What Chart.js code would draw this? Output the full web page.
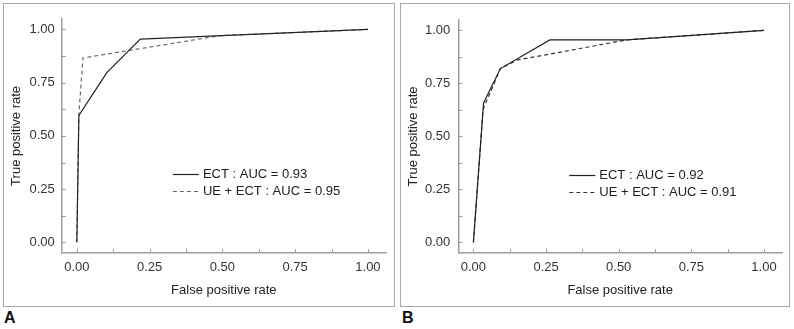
<!DOCTYPE html>
<html>
<head>
<meta charset="utf-8">
<script src="https://cdn.jsdelivr.net/npm/chart.js@4.4.1/dist/chart.umd.min.js"></script>
<style>
  body { margin: 0; background: #fff; width: 794px; height: 329px; position: relative; overflow: hidden; font-family: "Liberation Sans", Arial, sans-serif; }
  .panel { position: absolute; top: 3px; height: 302px; border: 1px solid #a8a8a8; }
  #boxA { left: 3px; width: 390px; }
  #boxB { left: 400px; width: 388px; }
  .panel canvas { position: absolute; left: 0; top: 0; }
  .tag { position: absolute; top: 310px; font-weight: bold; font-size: 16px; line-height: 16px; color: #111; }
</style>
</head>
<body>
<div class="panel" id="boxA"><canvas id="chartA" width="390" height="302"></canvas></div>
<div class="panel" id="boxB"><canvas id="chartB" width="388" height="302"></canvas></div>
<div class="tag" style="left:4px">A</div>
<div class="tag" style="left:402px">B</div>
<script>
// panel A
var ectA_fpr = [0, 0.007, 0.103, 0.218, 1];
var ectA_tpr = [0, 0.596, 0.797, 0.955, 1];
var ueA_fpr = [0, 0.007, 0.021, 0.493, 1];
var ueA_tpr = [0, 0.600, 0.866, 0.971, 1];

// panel B
var ectB_fpr = [0, 0.035, 0.093, 0.263, 0.527, 1];
var ectB_tpr = [0, 0.658, 0.820, 0.955, 0.955, 1];
var ueB_fpr = [0, 0.033, 0.093, 0.150, 0.527, 1];
var ueB_tpr = [0, 0.627, 0.820, 0.860, 0.955, 1];

var labelsA = ['ECT : AUC = 0.93', 'UE + ECT : AUC = 0.95'];
var labelsB = ['ECT : AUC = 0.92', 'UE + ECT : AUC = 0.91'];

var tickVals = [0, 0.25, 0.5, 0.75, 1];
var tickMarks = [0, 0.125, 0.25, 0.375, 0.5, 0.625, 0.75, 0.875, 1];
var legendX = 0.33;
var legendY = [0.32, 0.24];

var font = { family: '"Liberation Sans", Arial, sans-serif', size: 13 };

function pts(xs, ys) {
    return xs.map(function(v, i) { return { x: v, y: ys[i] }; });
}

// little inward tick marks, ggplot style
var innerTicks = {
    id: 'innerTicks',
    afterDatasetsDraw: function(chart) {
        var ctx = chart.ctx, a = chart.chartArea, x = chart.scales.x, y = chart.scales.y;
        ctx.save();
        ctx.strokeStyle = '#9a9a9a';
        ctx.lineWidth = 1;
        tickMarks.forEach(function(v) {
            var px = Math.round(x.getPixelForValue(v)) + 0.5;
            ctx.beginPath(); ctx.moveTo(px, a.bottom); ctx.lineTo(px, a.bottom - 4); ctx.stroke();
            var py = Math.round(y.getPixelForValue(v)) + 0.5;
            ctx.beginPath(); ctx.moveTo(a.left, py); ctx.lineTo(a.left + 4, py); ctx.stroke();
        });
        ctx.restore();
    }
};

// legend sits inside the plot
var innerLegend = {
    id: 'innerLegend',
    afterDatasetsDraw: function(chart) {
        var ctx = chart.ctx, x = chart.scales.x, y = chart.scales.y;
        var x0 = x.getPixelForValue(legendX);
        ctx.save();
        chart.data.datasets.forEach(function(ds, i) {
            var py = Math.round(y.getPixelForValue(legendY[i])) + 0.5;
            ctx.strokeStyle = ds.borderColor;
            ctx.lineWidth = ds.borderWidth;
            ctx.setLineDash(ds.borderDash || []);
            ctx.beginPath(); ctx.moveTo(x0, py); ctx.lineTo(x0 + 26, py); ctx.stroke();
            ctx.setLineDash([]);
            ctx.fillStyle = '#222';
            ctx.font = font.size + 'px ' + font.family;
            ctx.textBaseline = 'middle';
            ctx.textAlign = 'left';
            ctx.fillText(ds.label, x0 + 30, py);
        });
        ctx.restore();
    }
};

function makePanel(id, ect, ue, labels, dashColor, yWidth, padRight, yPad) {
    var ctx = document.getElementById(id);
    new Chart(ctx, {
        type: 'line',
        data: {
            datasets: [{
                label: labels[0],
                data: ect,
                borderColor: '#222',
                borderWidth: 1.2,
                pointRadius: 0,
                tension: 0
            }, {
                label: labels[1],
                data: ue,
                borderColor: dashColor,
                borderWidth: 1.2,
                borderDash: [4, 3],
                pointRadius: 0,
                tension: 0
            }]
        },
        options: {
            responsive: false,
            animation: false,
            layout: { padding: { left: 0, right: padRight, top: 11, bottom: 0 } },
            plugins: { legend: { display: false }, tooltip: { enabled: false } },
            scales: {
                x: {
                    type: 'linear',
                    min: -0.052,
                    max: 1.062,
                    afterBuildTicks: function(s) { s.ticks = tickVals.map(function(v) { return { value: v }; }); },
                    afterFit: function(s) { s.height = 53; },
                    grid: { display: false, drawTicks: false },
                    border: { display: true, color: '#a0a0a0', width: 1.5 },
                    ticks: { font: font, color: '#333', padding: 7, maxRotation: 0,
                        callback: function(v) { return v.toFixed(2); } },
                    title: { display: true, text: 'False positive rate', font: font, color: '#222',
                        padding: { top: 0, bottom: 8 } }
                },
                y: {
                    type: 'linear',
                    min: -0.05,
                    max: 1.05,
                    afterBuildTicks: function(s) { s.ticks = tickVals.map(function(v) { return { value: v }; }); },
                    afterFit: function(s) { s.width = yWidth; },
                    grid: { display: false, drawTicks: false },
                    border: { display: true, color: '#a0a0a0', width: 1.5 },
                    ticks: { font: font, color: '#333', padding: yPad,
                        callback: function(v) { return v.toFixed(2); } },
                    title: { display: true, text: 'True positive rate', font: font, color: '#222',
                        padding: { top: 5, bottom: 0 } }
                }
            }
        },
        plugins: [innerTicks, innerLegend]
    });
}

makePanel('chartA', pts(ectA_fpr, ectA_tpr), pts(ueA_fpr, ueA_tpr), labelsA, '#666', 57.7, 8, 7);
makePanel('chartB', pts(ectB_fpr, ectB_tpr), pts(ueB_fpr, ueB_tpr), labelsB, '#333', 57.3, 7, 8);
</script>
</body>
</html>
